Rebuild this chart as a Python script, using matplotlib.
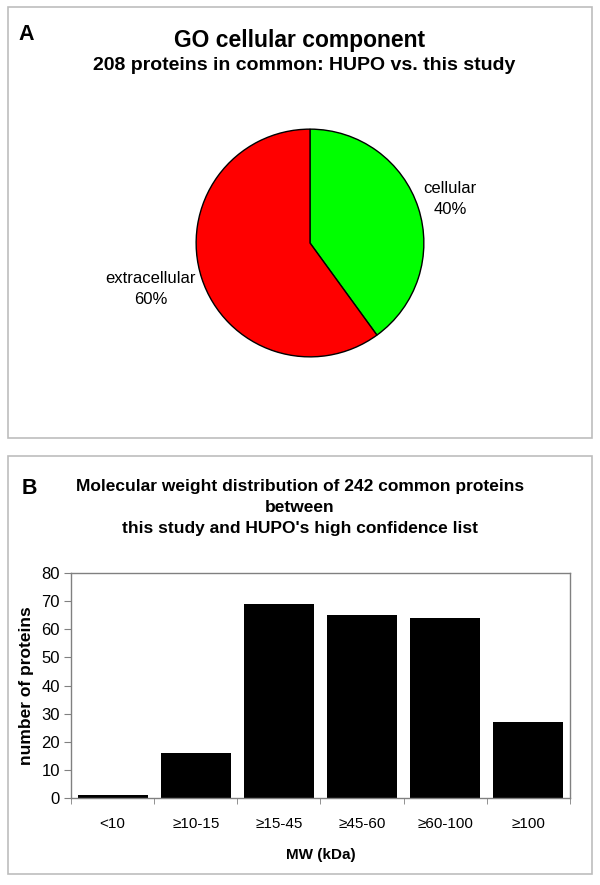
import numpy as np
import matplotlib
matplotlib.use('Agg')
import matplotlib.pyplot as plt
from matplotlib.patches import Rectangle

plt.rcParams['font.family'] = ['Liberation Sans', 'DejaVu Sans']

# panel A data
pie_labels = ['cellular\n40%', 'extracellular\n60%']
pie_values = [40, 60]
pie_colors = ['#00ff00', '#ff0000']

# panel B data
mw_bins = ['<10', '\u226510-15', '\u226515-45', '\u226545-60', '\u226560-100', '\u2265100']
mw_counts = [1, 16, 69, 65, 64, 27]

W, H = 600, 885
fig = plt.figure(figsize=(6, 8.85), dpi=100)

def fx(px):
    return px / W

def fy(py):
    return 1 - py / H

# panel frames
for (x0, y0, x1, y1) in [(7.5, 7, 591.5, 438), (7.5, 456, 591.5, 874)]:
    fig.patches.append(Rectangle((fx(x0), fy(y1)), fx(x1 - x0), (y1 - y0) / H,
                                 transform=fig.transFigure, fill=False,
                                 edgecolor='#bdbdbd', linewidth=1.2))

# ---- panel A ----
fig.text(fx(18), fy(35), 'A', fontsize=15.5, fontweight='bold', va='center')
fig.text(fx(300), fy(40), 'GO cellular component', fontsize=16.5,
         fontweight='bold', ha='center', va='center')
fig.text(fx(304), fy(66), '208 proteins in common: HUPO vs. this study',
         fontsize=14, fontweight='bold', ha='center', va='center')

cx, cy, r = 310, 243, 115
axp = fig.add_axes([fx(cx - r), fy(cy + r), 2 * r / W, 2 * r / H])
axp.pie(pie_values, colors=pie_colors, startangle=90, counterclock=False,
        wedgeprops=dict(edgecolor='black', linewidth=1.0))
axp.set_aspect('equal')
axp.set_xlim(-1.01, 1.01)
axp.set_ylim(-1.01, 1.01)
axp.axis('off')

fig.text(fx(450), fy(199), pie_labels[0], fontsize=12, ha='center', va='center',
         linespacing=1.55)
fig.text(fx(151), fy(289), pie_labels[1], fontsize=12, ha='center', va='center',
         linespacing=1.55)

# ---- panel B ----
fig.text(fx(22), fy(488), 'B', fontsize=15.5, fontweight='bold', va='center')
fig.text(fx(300), fy(508),
         "Molecular weight distribution of 242 common proteins\nbetween\n"
         "this study and HUPO's high confidence list",
         fontsize=12.5, fontweight='bold', ha='center', va='center',
         linespacing=1.5)

ax = fig.add_axes([fx(71), fy(798), fx(570 - 71), (798 - 573) / H])
x = np.arange(len(mw_bins))
ax.bar(x, mw_counts, width=0.84, color='black')
ax.set_xlim(-0.5, len(mw_bins) - 0.5)
ax.set_ylim(0, 80)
ax.set_yticks(np.arange(0, 81, 10))
ax.set_xticks(x)
ax.set_xticklabels(mw_bins, fontsize=11)
ax.set_xticks(np.arange(-0.5, len(mw_bins), 1), minor=True)
ax.tick_params(axis='x', which='major', length=0, pad=14)
ax.tick_params(axis='x', which='minor', length=4, color='#808080')
ax.tick_params(axis='y', length=5, color='#808080', labelsize=12, pad=3)
for s in ax.spines.values():
    s.set_color('#808080')
    s.set_linewidth(1.0)
ax.set_ylabel('number of proteins', fontsize=12.5, fontweight='bold', labelpad=5)
ax.set_xlabel('MW (kDa)', fontsize=11, fontweight='bold', labelpad=12)

fig.savefig('out.png', dpi=100)
